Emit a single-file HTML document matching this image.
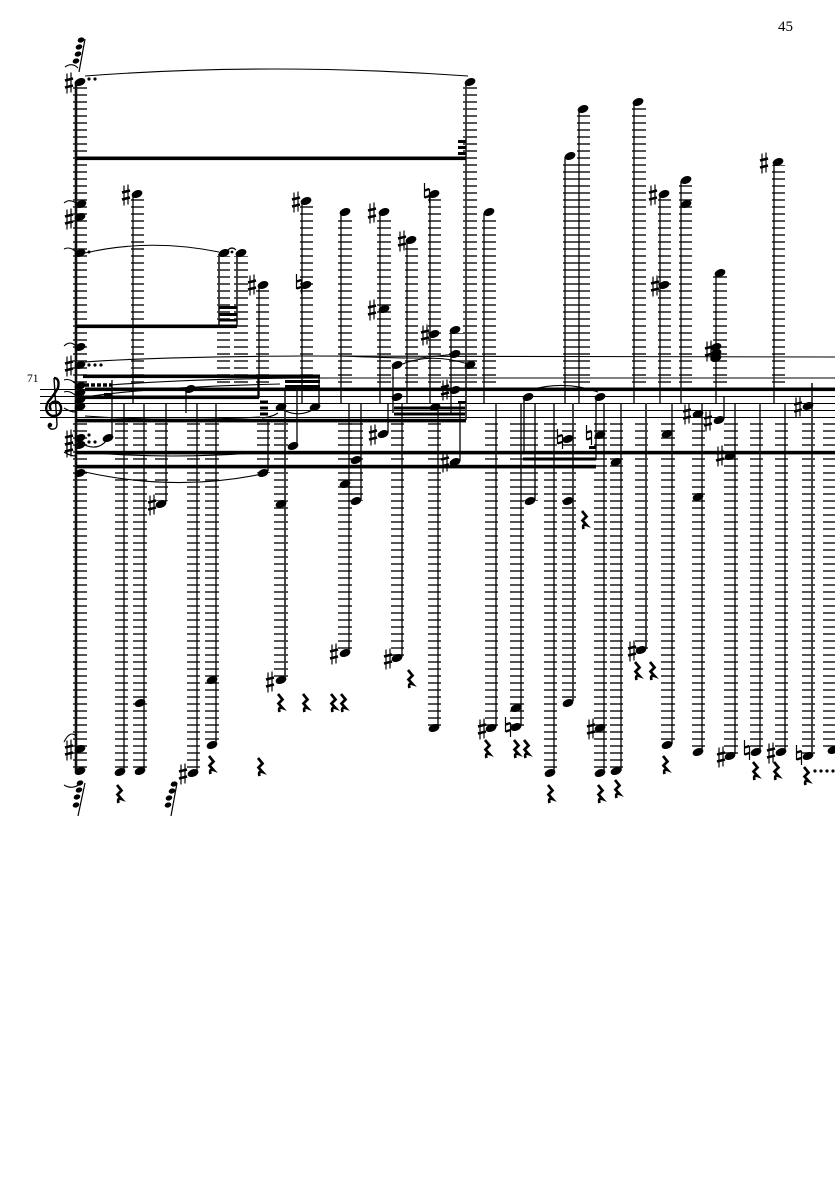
<!DOCTYPE html>
<html>
<head>
<meta charset="utf-8">
<style>
html,body{margin:0;padding:0;background:#fff}
svg{display:block}
text{font-family:"Liberation Serif",serif;fill:#000}
.s{stroke:#000;stroke-width:1.3;fill:none}
.t{stroke:#111;stroke-width:2.6;fill:none}
.g{stroke:#333;stroke-width:1.8;fill:none}
.c{stroke:#000;stroke-width:1.1;fill:none}
</style>
</head>
<body>
<svg width="835" height="1181" viewBox="0 0 835 1181" xmlns="http://www.w3.org/2000/svg">
<defs>
<pattern id="L" width="20" height="7" patternUnits="userSpaceOnUse"><rect x="0" y="3.2" width="20" height="1.6" fill="#2a2a2a"/></pattern>
<ellipse id="n" cx="0" cy="0" rx="5.6" ry="3.7" transform="rotate(-22)" fill="#000"/>
<ellipse id="m" cx="0" cy="0" rx="3.4" ry="2.5" transform="rotate(-22)" fill="#000"/>
<g id="h" stroke="#000" fill="none"><path d="M-2 -9.5V10.5M2 -10.5V9.5" stroke-width="1.2"/><path d="M-4 -2.5L4 -4.5M-4 4.5L4 2.5" stroke-width="2.7"/></g>
<g id="k" stroke="#000" fill="none"><path d="M-2.5 -10V5M2.5 -4V10" stroke-width="1.2"/><path d="M-2.5 -2.5L2.5 -4M-2.5 4.5L2.5 3" stroke-width="2.4"/></g>
<path id="r" d="M-2 -9L2.5 -3.5L-1.5 0.5L2.5 5Q-2 3.5 -0.5 9" fill="none" stroke="#000" stroke-width="2.7"/>
</defs>
<rect width="835" height="1181" fill="#fff"/>
<text x="778" y="31" font-size="15">45</text>
<text x="27" y="382" font-size="11.5">71</text>

<!-- ledger columns above the staff -->
<g fill="url(#L)">
<rect x="73" y="85" width="14" height="300"/>
<rect x="131" y="196" width="13" height="189"/>
<rect x="217" y="256" width="13" height="129"/>
<rect x="234" y="256" width="14" height="129"/>
<rect x="256" y="288" width="13" height="97"/>
<rect x="300" y="203" width="13" height="182"/>
<rect x="338" y="215" width="14" height="170"/>
<rect x="377" y="215" width="14" height="170"/>
<rect x="405" y="243" width="13" height="142"/>
<rect x="428" y="196" width="13" height="189"/>
<rect x="449" y="333" width="14" height="52"/>
<rect x="463" y="85" width="14" height="300"/>
<rect x="482" y="215" width="14" height="170"/>
<rect x="563" y="159" width="14" height="226"/>
<rect x="577" y="112" width="13" height="273"/>
<rect x="632" y="105" width="14" height="280"/>
<rect x="658" y="196" width="13" height="189"/>
<rect x="679" y="183" width="13" height="202"/>
<rect x="713" y="276" width="14" height="109"/>
<rect x="772" y="165" width="13" height="220"/>
</g>
<!-- ledger columns below the staff -->
<g fill="url(#L)">
<rect x="73" y="421" width="14" height="350"/>
<rect x="115" y="421" width="13" height="350"/>
<rect x="133" y="421" width="14" height="350"/>
<rect x="155" y="421" width="13" height="80"/>
<rect x="187" y="421" width="13" height="350"/>
<rect x="205" y="421" width="14" height="322"/>
<rect x="257" y="421" width="13" height="52"/>
<rect x="274" y="421" width="14" height="259"/>
<rect x="338" y="421" width="14" height="232"/>
<rect x="349" y="421" width="14" height="80"/>
<rect x="391" y="421" width="13" height="237"/>
<rect x="428" y="421" width="13" height="307"/>
<rect x="485" y="421" width="13" height="307"/>
<rect x="510" y="421" width="14" height="306"/>
<rect x="524" y="421" width="14" height="80"/>
<rect x="544" y="421" width="13" height="350"/>
<rect x="562" y="421" width="14" height="280"/>
<rect x="594" y="421" width="13" height="350"/>
<rect x="610" y="421" width="13" height="350"/>
<rect x="635" y="421" width="13" height="229"/>
<rect x="661" y="421" width="14" height="322"/>
<rect x="692" y="421" width="13" height="329"/>
<rect x="724" y="421" width="14" height="333"/>
<rect x="750" y="421" width="13" height="329"/>
<rect x="775" y="421" width="13" height="329"/>
<rect x="802" y="421" width="13" height="333"/>
<rect x="823" y="421" width="12" height="329"/>
</g>

<!-- staff -->
<path d="M40 389.5H835M40 396.5H835M40 403.5H835M40 410.5H835M40 417.5H835" stroke="#000" stroke-width="1"/>

<!-- stems -->
<g class="t"><path d="M76 82V771"/></g>
<g class="s">
<path d="M133 194V403M259 286V398M302 201V403M341 213V403M380 213V403M407 241V403M430 194V403M451 331V413"/>
<path d="M484 213V403M565 157V403M579 110V403M634 103V403M660 194V403M681 181V403M716 274V403M774 163V403"/>
<path d="M124 403V771M144 403V771M166 403V502M197 403V771M216 403V744M268 420V471"/>
<path d="M349 403V653M361 403V500M388 403V433M402 403V657M438 403V727M496 403V727M521 403V726M535 403V500M554 403V771M604 403V771M621 403V771M672 403V744M702 403V750M735 403V754M760 403V750M785 403V750"/>
<path d="M112 380V436M186 390V413M297 390V445M319 378V405M393 365V413M460 402V461M524 397V452M596 397V460M724 397V419M258 377V398"/>
</g>
<g class="g">
<path d="M219 254V326M237 254V326M466 82V158M466 158V420M646 403V649M812 383V754M285 391V680M573 403V701"/>
</g>

<!-- beams -->
<g fill="#000">
<rect x="76" y="156.5" width="390" height="3.6"/>
<rect x="76" y="324.5" width="161" height="3.6"/>
<rect x="219" y="306" width="18" height="3"/>
<rect x="219" y="313" width="18" height="3"/>
<rect x="219" y="319" width="18" height="2.5"/>
<rect x="458" y="140" width="8" height="3"/>
<rect x="458" y="146" width="8" height="3"/>
<rect x="458" y="152" width="8" height="3"/>
<rect x="83" y="374.5" width="237" height="3.6"/>
<rect x="285" y="380" width="35" height="3"/>
<rect x="285" y="385" width="35" height="3"/>
<rect x="85" y="387.5" width="750" height="3.6"/>
<rect x="83" y="395.5" width="176" height="3.6"/>
<rect x="104" y="393" width="8" height="3"/>
<rect x="260" y="400.5" width="8" height="3"/>
<rect x="260" y="406.5" width="8" height="3"/>
<rect x="260" y="412.5" width="8" height="3"/>
<rect x="76" y="418.8" width="390" height="3.6"/>
<rect x="394" y="406.5" width="71" height="3"/>
<rect x="394" y="412.5" width="71" height="3"/>
<rect x="458" y="401" width="8" height="2.4"/>
<rect x="76" y="450.8" width="759" height="3.6"/>
<rect x="76" y="464.8" width="520" height="3.6"/>
<rect x="523" y="457.5" width="73" height="3"/>
<rect x="589" y="446" width="7" height="3"/>
</g>
<path d="M85 385H112" stroke="#000" stroke-width="3.4" stroke-dasharray="4 2" fill="none"/>

<!-- ties and slurs -->
<g class="c">
<path d="M85 76Q270 62 468 76"/>
<path d="M85 253Q150 238 219 252"/>
<path d="M85 362Q150 357 300 356L835 357"/>
<path d="M110 385Q200 378 330 378L835 378"/>
<path d="M85 472Q175 492 262 474"/>
<path d="M85 416Q170 422 260 417"/>
<path d="M85 445Q98 451 107 440"/>
<path d="M283 410Q300 418 314 409"/>
<path d="M262 418Q272 417 278 413"/>
<path d="M84 452Q170 460 265 452"/>
<path d="M85 397Q150 387 280 384"/>
<path d="M530 390Q565 380 598 392"/>
<path d="M340 356Q390 358 420 358L455 354M400 365Q430 352 468 364"/>
<path d="M228 250Q232 246 236 250"/>
<path d="M65 67Q72 62 78 68"/>
<path d="M64 203Q70 198 77 204"/>
<path d="M64 249Q70 246 76 252"/>
<path d="M64 380Q70 378 76 384M64 392Q70 390 76 396M64 408Q70 412 76 412"/>
<path d="M64 452Q70 456 76 456M64 346Q70 340 76 346"/>
<path d="M64 742Q70 730 76 736"/>
<path d="M64 785Q72 790 80 784"/>
</g>

<!-- noteheads -->
<g>
<use href="#n" x="80" y="82"/><use href="#n" x="81" y="204"/><use href="#n" x="80" y="217"/><use href="#n" x="80" y="253"/>
<use href="#n" x="80" y="347"/><use href="#n" x="80" y="365"/><use href="#n" x="80" y="386"/><use href="#n" x="80" y="393"/><use href="#n" x="80" y="400"/><use href="#n" x="80" y="407"/>
<use href="#n" x="80" y="438"/><use href="#n" x="80" y="445"/><use href="#n" x="80" y="473"/><use href="#n" x="80" y="749"/><use href="#n" x="80" y="771"/>
<use href="#n" x="137" y="194"/><use href="#n" x="224" y="253"/><use href="#n" x="241" y="253"/><use href="#n" x="263" y="285"/>
<use href="#n" x="306" y="201"/><use href="#n" x="306" y="285"/><use href="#n" x="345" y="212"/><use href="#n" x="384" y="212"/><use href="#n" x="384" y="309"/>
<use href="#n" x="411" y="240"/><use href="#n" x="434" y="194"/><use href="#n" x="434" y="334"/><use href="#n" x="455" y="330"/><use href="#n" x="455" y="354"/>
<use href="#n" x="470" y="82"/><use href="#n" x="470" y="365"/><use href="#n" x="489" y="212"/><use href="#n" x="397" y="365"/><use href="#n" x="397" y="397"/><use href="#n" x="435" y="407"/><use href="#n" x="455" y="390"/>
<use href="#n" x="570" y="156"/><use href="#n" x="583" y="109"/><use href="#n" x="638" y="102"/><use href="#n" x="664" y="194"/><use href="#n" x="664" y="285"/>
<use href="#n" x="686" y="180"/><use href="#n" x="686" y="204"/><use href="#n" x="720" y="273"/><use href="#n" x="716" y="347"/><use href="#n" x="716" y="353"/><use href="#n" x="716" y="358"/><use href="#n" x="778" y="162"/>
<use href="#n" x="108" y="438"/><use href="#n" x="120" y="772"/><use href="#n" x="140" y="771"/><use href="#n" x="140" y="703"/><use href="#n" x="161" y="504"/>
<use href="#n" x="193" y="773"/><use href="#n" x="212" y="745"/><use href="#n" x="212" y="680"/><use href="#n" x="190" y="389"/><use href="#n" x="263" y="473"/>
<use href="#n" x="281" y="407"/><use href="#n" x="281" y="504"/><use href="#n" x="281" y="680"/><use href="#n" x="293" y="446"/><use href="#n" x="315" y="407"/>
<use href="#n" x="345" y="484"/><use href="#n" x="345" y="653"/><use href="#n" x="356" y="460"/><use href="#n" x="356" y="501"/><use href="#n" x="383" y="434"/><use href="#n" x="397" y="658"/>
<use href="#n" x="434" y="728"/><use href="#n" x="455" y="462"/><use href="#n" x="491" y="728"/><use href="#n" x="516" y="708"/><use href="#n" x="516" y="727"/>
<use href="#n" x="530" y="501"/><use href="#n" x="528" y="397"/><use href="#n" x="550" y="773"/><use href="#n" x="568" y="703"/><use href="#n" x="568" y="501"/><use href="#n" x="568" y="439"/>
<use href="#n" x="600" y="397"/><use href="#n" x="600" y="435"/><use href="#n" x="600" y="728"/><use href="#n" x="600" y="773"/><use href="#n" x="616" y="771"/><use href="#n" x="616" y="462"/>
<use href="#n" x="641" y="650"/><use href="#n" x="667" y="745"/><use href="#n" x="667" y="434"/><use href="#n" x="698" y="752"/><use href="#n" x="698" y="497"/><use href="#n" x="698" y="414"/>
<use href="#n" x="719" y="420"/><use href="#n" x="730" y="756"/><use href="#n" x="730" y="456"/><use href="#n" x="756" y="752"/><use href="#n" x="781" y="752"/><use href="#n" x="808" y="756"/><use href="#n" x="808" y="406"/><use href="#n" x="833" y="750"/>
</g>

<!-- sharps -->
<g>
<use href="#h" x="69" y="83"/><use href="#h" x="69" y="219"/><use href="#h" x="69" y="366"/><use href="#h" x="69" y="440"/><use href="#h" x="69" y="447"/><use href="#h" x="69" y="750"/>
<use href="#h" x="126" y="195"/><use href="#h" x="152" y="505"/><use href="#h" x="183" y="774"/><use href="#h" x="252" y="285"/><use href="#h" x="296" y="202"/><use href="#h" x="270" y="682"/>
<use href="#h" x="334" y="654"/><use href="#h" x="372" y="213"/><use href="#h" x="372" y="310"/><use href="#h" x="373" y="435"/><use href="#h" x="388" y="659"/><use href="#h" x="402" y="241"/>
<use href="#h" x="425" y="335"/><use href="#h" x="445" y="390"/><use href="#h" x="445" y="462"/><use href="#h" x="482" y="729"/><use href="#h" x="591" y="729"/><use href="#h" x="632" y="651"/>
<use href="#h" x="653" y="195"/><use href="#h" x="655" y="286"/><use href="#h" x="687" y="414"/><use href="#h" x="708" y="421"/><use href="#h" x="709" y="351"/><use href="#h" x="720" y="456"/>
<use href="#h" x="721" y="757"/><use href="#h" x="764" y="163"/><use href="#h" x="771" y="753"/><use href="#h" x="798" y="407"/>
</g>
<!-- naturals -->
<g>
<use href="#k" x="299" y="284"/><use href="#k" x="427" y="193"/><use href="#k" x="508" y="727"/><use href="#k" x="560" y="439"/><use href="#k" x="589" y="435"/><use href="#k" x="747" y="750"/><use href="#k" x="799" y="755"/>
</g>
<!-- rests -->
<g>
<use href="#r" x="119" y="794"/><use href="#r" x="211" y="765"/><use href="#r" x="260" y="767"/><use href="#r" x="280" y="703"/><use href="#r" x="305" y="703"/><use href="#r" x="333" y="703"/><use href="#r" x="343" y="703"/>
<use href="#r" x="410" y="679"/><use href="#r" x="487" y="749"/><use href="#r" x="516" y="749"/><use href="#r" x="526" y="749"/><use href="#r" x="550" y="794"/><use href="#r" x="584" y="520"/><use href="#r" x="600" y="794"/><use href="#r" x="617" y="789"/>
<use href="#r" x="637" y="671"/><use href="#r" x="652" y="671"/><use href="#r" x="665" y="765"/><use href="#r" x="755" y="771"/><use href="#r" x="776" y="771"/><use href="#r" x="806" y="776"/>
</g>
<!-- dots -->
<g fill="#000">
<circle cx="89" cy="79" r="1.6"/><circle cx="95" cy="79" r="1.6"/><circle cx="89" cy="252" r="1.5"/><circle cx="232" cy="252" r="1.4"/>
<circle cx="89" cy="365" r="1.6"/><circle cx="95" cy="365" r="1.6"/><circle cx="101" cy="365" r="1.6"/>
<circle cx="89" cy="435" r="1.6"/><circle cx="89" cy="442" r="1.6"/><circle cx="95" cy="442" r="1.6"/>
<circle cx="815" cy="771" r="1.6"/><circle cx="821" cy="771" r="1.6"/><circle cx="827" cy="771" r="1.6"/><circle cx="833" cy="771" r="1.6"/>
</g>
<!-- grace groups -->
<g>
<path d="M85 39L79 72M85 783L78 816M177 783L171 816" stroke="#000" stroke-width="1.2"/>
<use href="#m" x="81" y="40"/><use href="#m" x="79" y="47"/><use href="#m" x="78" y="54"/><use href="#m" x="76" y="61"/>
<use href="#m" x="80" y="783"/><use href="#m" x="79" y="790"/><use href="#m" x="77" y="797"/><use href="#m" x="76" y="805"/>
<use href="#m" x="174" y="784"/><use href="#m" x="172" y="791"/><use href="#m" x="169" y="798"/><use href="#m" x="168" y="805"/>
</g>
<!-- treble clef -->
<g fill="none" stroke="#000">
<path d="M54 378L57 424Q57 430 51 429Q47 427 49 424" stroke-width="1.4"/>
<path d="M54 378Q60 378 58 388Q54 395 48 402Q43 412 52 416Q62 416 61 407Q59 400 53 402Q48 405 51 410" stroke-width="2.4"/>
<circle cx="50" cy="425" r="2.2" fill="#000" stroke="none"/>
</g>
</svg>
</body>
</html>
